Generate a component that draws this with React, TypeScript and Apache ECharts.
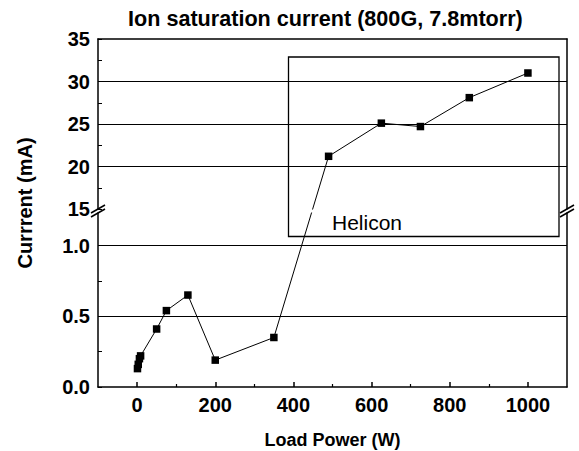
import React, { useEffect, useRef } from "react";
import * as echarts from "echarts";

const TITLE = "Ion saturation current (800G, 7.8mtorr)";
const X_NAME = "Load Power (W)";
const Y_NAME = "Currrent (mA)";
const BOX_LABEL = "Helicon";

// Upper (Helicon) branch
const upperX = [490, 625, 725, 850, 1000];
const upperY = [21.2, 25.1, 24.7, 28.1, 31.0];
// Lower branch
const lowerX = [1, 3, 6, 9, 50, 75, 130, 200, 350];
const lowerY = [0.13, 0.16, 0.2, 0.22, 0.41, 0.54, 0.65, 0.19, 0.35];

const xTicks = [0, 200, 400, 600, 800, 1000];
const xMinorTicks = [100, 300, 500, 700, 900];
const upperTicks = [15, 20, 25, 30, 35];
const upperGridLines = [20, 25, 30];
const lowerTicks = [0, 0.5, 1.0];
const lowerMinorTicks = [0.25, 0.75];
const lowerGridLines = [0.5, 1.0];

const FONT = "Liberation Sans";

export default function App() {
  const ref = useRef<HTMLDivElement>(null);
  useEffect(() => {
    document.body.style.margin = "0";
    const chart = echarts.init(ref.current as HTMLDivElement, null, { renderer: "svg" });
    const black = "#000";
    const labelStyle = { color: black, fontFamily: FONT, fontWeight: "bold" as const, fontSize: 20 };
    const gridL = 98;
    const gridR = 12;
    const markLine = (vals: number[]) => ({
      silent: true,
      symbol: ["none", "none"],
      label: { show: false },
      lineStyle: { color: black, type: "solid", width: 1 },
      data: vals.map((v) => ({ yAxis: v })),
    });
    const option: any = {
      animation: false,
      backgroundColor: "#fff",
      title: {
        text: TITLE,
        left: 128,
        top: 7,
        padding: 0,
        textStyle: { ...labelStyle, fontSize: 21.6 },
      },
      grid: [
        { left: gridL, right: gridR, top: 39, height: 170 },
        { left: gridL, right: gridR, top: 213, height: 174 },
      ],
      xAxis: [
        {
          gridIndex: 0, type: "value", position: "top", min: -100, max: 1100,
          axisLine: { show: true, onZero: false, lineStyle: { color: black, width: 1.5 } },
          axisTick: { show: false }, axisLabel: { show: false }, splitLine: { show: false },
        },
        {
          gridIndex: 1, type: "value", position: "bottom", min: -100, max: 1100,
          axisLine: { show: true, onZero: false, lineStyle: { color: black, width: 1.5 } },
          axisTick: { show: true, inside: true, length: 5, customValues: xTicks, lineStyle: { color: black, width: 1.5 } },
          axisLabel: { ...labelStyle, margin: 8, customValues: xTicks, formatter: (v: number) => String(v) },
          splitLine: { show: false },
          name: X_NAME, nameLocation: "middle", nameGap: 44,
          nameTextStyle: { ...labelStyle, fontSize: 18 },
        },
        {
          gridIndex: 1, type: "value", position: "bottom", min: -100, max: 1100,
          axisLine: { show: false, onZero: false },
          axisTick: { show: true, inside: true, length: 3, customValues: xMinorTicks, lineStyle: { color: black, width: 1.2 } },
          axisLabel: { show: false }, splitLine: { show: false },
        },
      ],
      yAxis: [
        {
          gridIndex: 0, type: "value", position: "left", min: 15, max: 35, interval: 5,
          axisLine: { show: true, onZero: false, lineStyle: { color: black, width: 1.5 } },
          axisTick: { show: true, inside: true, length: 4, customValues: upperTicks, lineStyle: { color: black } },
          minorTick: { show: true, splitNumber: 2, length: 4, lineStyle: { color: black } },
          axisLabel: { ...labelStyle, margin: 8, customValues: upperTicks },
          splitLine: { show: false },
        },
        {
          gridIndex: 0, type: "value", position: "right", min: 15, max: 35,
          axisLine: { show: true, onZero: false, lineStyle: { color: black, width: 1.5 } },
          axisTick: { show: false }, axisLabel: { show: false }, splitLine: { show: false },
        },
        {
          gridIndex: 1, type: "value", position: "left", min: 0, max: 1.23, interval: 0.5,
          axisLine: { show: true, onZero: false, lineStyle: { color: black, width: 1.5 } },
          axisTick: { show: true, inside: true, length: 4, customValues: lowerTicks, lineStyle: { color: black } },
          axisLabel: { ...labelStyle, margin: 8, customValues: lowerTicks, formatter: (v: number) => v.toFixed(1) },
          splitLine: { show: false },
        },
        {
          gridIndex: 1, type: "value", position: "right", min: 0, max: 1.23,
          axisLine: { show: true, onZero: false, lineStyle: { color: black, width: 1.5 } },
          axisTick: { show: false }, axisLabel: { show: false }, splitLine: { show: false },
        },
        {
          gridIndex: 1, type: "value", position: "left", min: 0, max: 1.23,
          axisLine: { show: false, onZero: false },
          axisTick: { show: true, inside: true, length: 4, customValues: lowerMinorTicks, lineStyle: { color: black } },
          axisLabel: { show: false }, splitLine: { show: false },
        },
      ],
      series: [
        {
          id: "upper", type: "line", xAxisIndex: 0, yAxisIndex: 0,
          data: upperX.map((x, i) => [x, upperY[i]]),
          symbol: "rect", symbolSize: 7.5, showSymbol: true,
          itemStyle: { color: black }, lineStyle: { color: black, width: 1 },
          markLine: markLine(upperGridLines), z: 3,
        },
        {
          id: "lower", type: "line", xAxisIndex: 1, yAxisIndex: 2,
          data: lowerX.map((x, i) => [x, lowerY[i]]),
          symbol: "rect", symbolSize: 7.5, showSymbol: true,
          itemStyle: { color: black }, lineStyle: { color: black, width: 1 },
          markLine: markLine(lowerGridLines), z: 3,
        },
        {
          id: "connLower", type: "line", xAxisIndex: 1, yAxisIndex: 2, data: [],
          showSymbol: false, symbol: "none", clip: true, lineStyle: { color: black, width: 1 }, z: 3,
        },
        {
          id: "connUpper", type: "line", xAxisIndex: 0, yAxisIndex: 0, data: [],
          showSymbol: false, symbol: "none", clip: true, lineStyle: { color: black, width: 1 }, z: 3,
        },
      ],
    };
    chart.setOption(option);

    // Connect the two branches across the axis break, through the library's own scales.
    const lastLow: [number, number] = [lowerX[lowerX.length - 1], lowerY[lowerY.length - 1]];
    const firstUp: [number, number] = [upperX[0], upperY[0]];
    const pLow = chart.convertToPixel({ seriesIndex: 1 }, lastLow) as number[];
    const pUp = chart.convertToPixel({ seriesIndex: 0 }, firstUp) as number[];
    const upInLower = chart.convertFromPixel({ seriesIndex: 1 }, pUp) as number[];
    const lowInUpper = chart.convertFromPixel({ seriesIndex: 0 }, pLow) as number[];

    // Break marks at the two grids' facing edges
    const topOfLower = chart.convertToPixel({ seriesIndex: 1 }, [-100, 1.23]) as number[];
    const botOfUpper = chart.convertToPixel({ seriesIndex: 0 }, [1100, 15]) as number[];
    const yA = botOfUpper[1];
    const yB = topOfLower[1];
    const xL = topOfLower[0];
    const xR = botOfUpper[0];
    const mark = (x: number) => [
      { type: "line", shape: { x1: x - 7, y1: yA + 4, x2: x + 7, y2: yA - 4 }, style: { stroke: black, lineWidth: 1.5 } },
      { type: "line", shape: { x1: x - 7, y1: yB + 4, x2: x + 7, y2: yB - 4 }, style: { stroke: black, lineWidth: 1.5 } },
    ];

    chart.setOption({
      series: [
        { id: "connLower", data: [lastLow, [firstUp[0], upInLower[1]]] },
        { id: "connUpper", data: [[lastLow[0], lowInUpper[1]], firstUp] },
      ],
      graphic: [
        {
          type: "rect", shape: { x: 288.5, y: 57, width: 270.5, height: 179.5 },
          style: { fill: "none", stroke: black, lineWidth: 1.3 }, z: 2,
        },
        {
          type: "text", x: 332, y: 222,
          style: { text: BOX_LABEL, fill: black, font: `21px "${FONT}"`, verticalAlign: "middle", align: "left" }, z: 4,
        },
        {
          type: "text", x: 25, y: 203, rotation: Math.PI / 2,
          style: { text: Y_NAME, fill: black, font: `bold 20px "${FONT}"`, align: "center", verticalAlign: "middle" },
        },
        ...mark(xL),
        ...mark(xR),
      ],
    });
    return () => chart.dispose();
  }, []);
  return <div ref={ref} style={{ width: 579, height: 451 }} />;
}
